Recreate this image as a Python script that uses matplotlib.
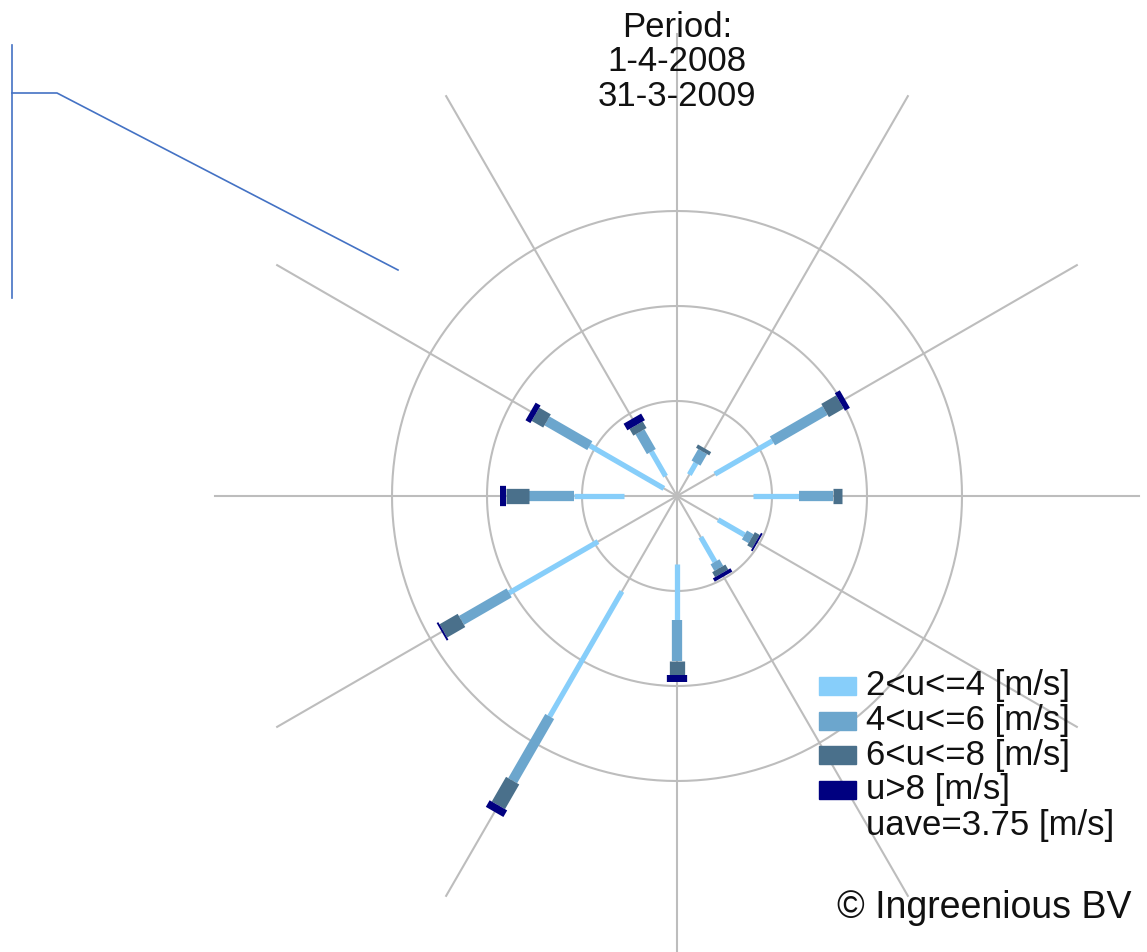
import numpy as np
import matplotlib
matplotlib.use("Agg")
import matplotlib.pyplot as plt
from matplotlib.patches import Rectangle
from matplotlib.lines import Line2D

plt.rcParams['font.family'] = ['Liberation Sans', 'DejaVu Sans']

# wind directions (degrees from north, clockwise)
directions = [0, 30, 60, 90, 120, 150, 180, 210, 240, 270, 300, 330]

# frequency per speed class [%] - first class (u<=2) is not coloured
calm = [0.0, 1.3, 2.3, 4.0, 2.5, 2.5, 3.6, 5.8, 4.8, 2.8, 0.8, 1.2]
u2_4 = [0.0, 0.7, 3.5, 2.4, 1.6, 1.5, 2.9, 7.6, 5.4, 2.6, 4.5, 1.5]
u4_6 = [0.0, 0.7, 3.2, 1.8, 0.4, 0.4, 2.2, 3.9, 2.9, 2.4, 2.6, 1.2]
u6_8 = [0.0, 0.2, 0.9, 0.5, 0.3, 0.3, 0.7, 1.5, 1.1, 1.2, 0.7, 0.4]
u8 = [0.0, 0.0, 0.3, 0.0, 0.1, 0.2, 0.4, 0.4, 0.1, 0.3, 0.3, 0.4]

classes = [calm, u2_4, u4_6, u6_8, u8]
labels = [None, '2<u<=4 [m/s]', '4<u<=6 [m/s]', '6<u<=8 [m/s]', 'u>8 [m/s]']
colors = [None, '#87CEFA', '#6CA6CD', '#4A708B', '#000080']
widths = [0, 3.8, 7.4, 11.0, 14.6]

rings = [5, 10, 15]
u_ave = 3.75

W, H = 1147, 952
fig = plt.figure(figsize=(W / 100, H / 100), dpi=100)

cx, cy = 677, 496      # centre of the rose in pixels
rmax = 25
R = 475                # pixels for rmax
ax = fig.add_axes([(cx - R) / W, (H - cy - R) / H, 2 * R / W, 2 * R / H],
                  projection='polar')
ax.set_theta_zero_location('N')
ax.set_theta_direction(-1)
ax.set_ylim(0, rmax)
ax.axis('off')

grid_c = '#BDBDBD'
# spokes
for d in directions:
    th = np.deg2rad(d)
    ax.plot([th, th], [0, 24.3], color=grid_c, lw=1.5, clip_on=False, zorder=1)
# rings
t = np.linspace(0, 2 * np.pi, 361)
for r in rings:
    ax.plot(t, np.full_like(t, r), color=grid_c, lw=1.5, zorder=1)

# stacked bars
for i, d in enumerate(directions):
    th = np.deg2rad(d)
    r0 = 0.0
    for k, cls in enumerate(classes):
        v = cls[i]
        if k > 0 and v > 0:
            ax.plot([th, th], [r0, r0 + v], color=colors[k], lw=widths[k],
                    solid_capstyle='butt', zorder=2 + k)
        r0 += v

# title block
fig.text(cx / W, 1 - 11 / H, 'Period:\n1-4-2008\n31-3-2009', ha='center', va='top',
         fontsize=25, linespacing=1.05, color='#111111')

# legend
lx, ly, step = 819, 686, 34.5
for k in range(1, 5):
    y = ly + (k - 1) * step
    fig.add_artist(Rectangle((lx / W, 1 - (y + 9) / H), 37 / W, 18 / H,
                             transform=fig.transFigure, color=colors[k]))
    fig.text(866 / W, 1 - y / H, labels[k], ha='left', va='center',
             fontsize=25, color='#111111')
fig.text(866 / W, 1 - (ly + 4 * step + 1) / H, 'uave=%.2f [m/s]' % u_ave,
         ha='left', va='center', fontsize=25, color='#111111')
fig.text(837 / W, 1 - 908 / H, '\u00a9 Ingreenious BV', ha='left', va='center',
         fontsize=27, color='#111111')

# connector line on the left
blue = '#4472C4'
fig.add_artist(Line2D([12 / W, 12 / W], [1 - 45 / H, 1 - 298 / H],
                      transform=fig.transFigure, color=blue, lw=1.2))
fig.add_artist(Line2D([12 / W, 57 / W, 398 / W], [1 - 93 / H, 1 - 93 / H, 1 - 270 / H],
                      transform=fig.transFigure, color=blue, lw=1.2))

fig.savefig('out.png', dpi=100, facecolor='white')
